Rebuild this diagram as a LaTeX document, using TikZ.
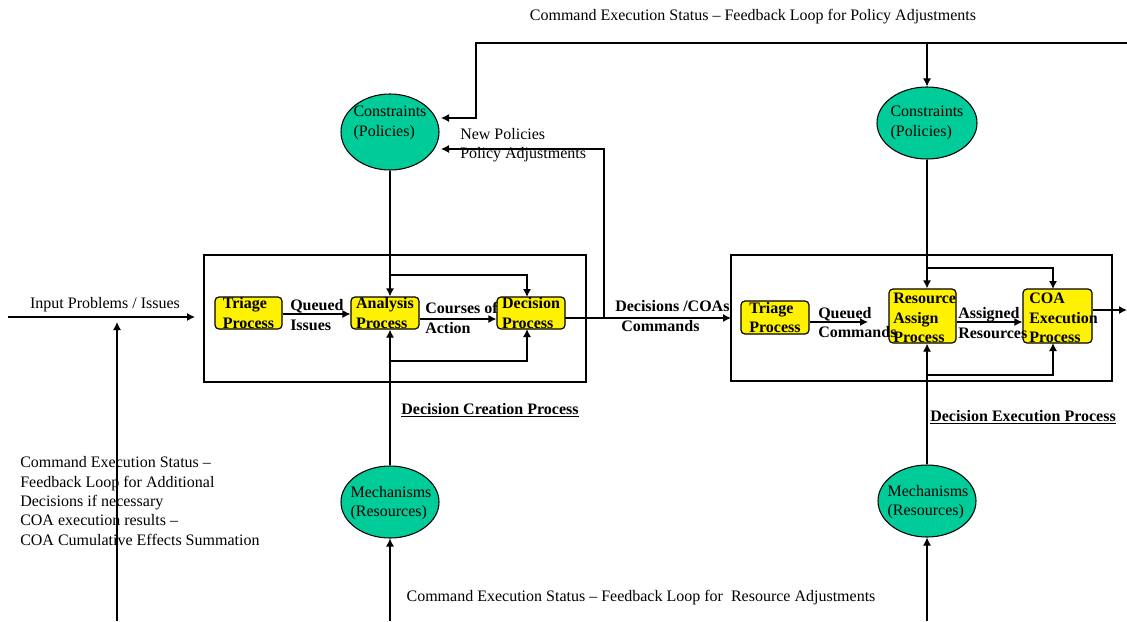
\documentclass[tikz,border=0pt]{standalone}
\usepackage{fontspec}
\setmainfont{Liberation Serif}
\usetikzlibrary{arrows.meta,shapes.geometric}
\definecolor{ellgreen}{RGB}{0,204,153}
\begin{document}
\begin{tikzpicture}[x=0.75pt,y=-0.75pt,
  font=\fontsize{12}{14.5}\selectfont,
  ybox/.style={draw, fill=yellow, rounded corners=3pt, inner sep=0pt, line width=0.9pt},
  ell/.style={draw, ellipse, fill=ellgreen, inner sep=0pt, line width=0.8pt},
  frame/.style={draw, inner sep=0pt, line width=0.9pt},
  txt/.style={inner sep=0pt, align=left},
  btxt/.style={inner sep=0pt, align=left, font=\fontsize{12}{14.5}\selectfont\bfseries},
  arr/.style={-{Latex[length=6pt,width=6pt]}, line width=0.9pt},
  ln/.style={line width=0.9pt}]
\useasboundingbox (0,0) rectangle (1127,621);

% ---------- frames ----------
\node[frame, minimum width=382*0.75pt, minimum height=127*0.75pt] (frm1) at (395,318.5) {};
\node[frame, minimum width=381*0.75pt, minimum height=126*0.75pt] (frm2) at (921.5,318) {};

% ---------- ellipses ----------
\node[ell, minimum width=98*0.75pt, minimum height=76*0.75pt] (con1) at (390,132) {};
\node[txt] (con1t) at (390,123) {Constraints\\(Policies)};
\node[ell, minimum width=100*0.75pt, minimum height=72*0.75pt] (con2) at (927,123) {};
\node[txt] (con2t) at (927,123) {Constraints\\(Policies)};
\node[ell, minimum width=98*0.75pt, minimum height=72*0.75pt] (mech1) at (390,502) {};
\node[txt] (mech1t) at (391,503) {Mechanisms\\(Resources)};
\node[ell, minimum width=98*0.75pt, minimum height=72*0.75pt] (mech2) at (927,501) {};
\node[txt] (mech2t) at (928,502) {Mechanisms\\(Resources)};

% ---------- yellow boxes ----------
\node[ybox, minimum width=67*0.75pt, minimum height=32*0.75pt] (tri1) at (248.5,313) {};
\node[btxt] (tri1t) at (248.5,313) {Triage\\Process};
\node[ybox, minimum width=68*0.75pt, minimum height=32*0.75pt] (ana1) at (385,313) {};
\node[btxt] (ana1t) at (385,313) {Analysis\\Process};
\node[ybox, minimum width=68*0.75pt, minimum height=32*0.75pt] (dec1) at (531,313) {};
\node[btxt] (dec1t) at (531,313) {Decision\\Process};

\node[ybox, minimum width=68*0.75pt, minimum height=33*0.75pt] (tri2) at (775,317.5) {};
\node[btxt] (tri2t) at (775,317.5) {Triage\\Process};
\node[ybox, minimum width=67*0.75pt, minimum height=54*0.75pt] (res2) at (922.5,316) {};
\node[btxt, anchor=west] (res2t) at (893,318) {Resource\\Assign\\Process};
\node[ybox, minimum width=69*0.75pt, minimum height=54*0.75pt] (coa2) at (1057.5,316) {};
\node[btxt, anchor=west] (coa2t) at (1029,318) {COA\\Execution\\Process};

% ---------- coordinates ----------
\coordinate (inL) at (8,317);
\coordinate (inR) at (195,317);
\coordinate (fbB) at (117,621);
\coordinate (fbT) at (117,322);
\coordinate (b1) at (390,275);
\coordinate (d1top) at (527,297);
\coordinate (b2) at (390,361);
\coordinate (d1bot) at (527,329);
\coordinate (y319) at (0,319);
\coordinate (dOut) at (565,318);
\coordinate (dIn) at (731,318);
\coordinate (np1) at (604,318);
\coordinate (np3) at (441,149);
\coordinate (tf0) at (1127,43);
\coordinate (tf1) at (476,43);
\coordinate (tf2) at (441,118);
\coordinate (tf3) at (927,43);
\coordinate (b3) at (927,268);
\coordinate (c2top) at (1053,289);
\coordinate (b4) at (927,375);
\coordinate (c2bot) at (1053,343);
\coordinate (y322) at (0,322);
\coordinate (q2end) at (868,322);
\coordinate (y310) at (0,310);
\coordinate (outR) at (1127,310);
\coordinate (bot1) at (390,621);
\coordinate (bot2) at (927,621);

% ---------- texts ----------
\node[txt] (inlab) at (105,305) {Input Problems / Issues};
\node[txt, anchor=west] (fbtxt) at (20,501) {Command Execution Status –\\Feedback Loop for Additional\\Decisions if necessary\\COA execution results –\\COA Cumulative Effects Summation};
\node[btxt, anchor=west] (qilab) at (290,315) {Queued\\Issues};
\node[btxt, anchor=west] (coalab) at (425,318) {Courses of\\Action};
\node[btxt, anchor=west] (dclab) at (615,316) {Decisions /COAs\\\hspace*{4.5pt}Commands};
\node[btxt, anchor=west] (qclab) at (818,322.5) {Queued\\Commands};
\node[btxt, anchor=west] (arlab) at (958,323) {Assigned\\Resources};
\node[txt, anchor=west] (nplab) at (460,145) {New Policies\\Policy Adjustments};
\node[txt] (toplab) at (753,17) {Command Execution Status – Feedback Loop for Policy Adjustments};
\node[txt] (botlab) at (641,598) {Command Execution Status – Feedback Loop for~ Resource Adjustments};
\node[btxt] (dcp) at (490,410) {\underline{Decision Creation Process}};
\node[btxt] (dep) at (1023,417) {\underline{Decision Execution Process}};

% ---------- connectors ----------
\draw[arr] (inL) -- (inR);
\draw[arr] (fbB) -- (fbT);

\draw[arr] (con1.south) -- (con1.south |- ana1.north);
\draw[arr] (b1) -| (d1top);
\draw[arr] (mech1.north) -- (mech1.north |- ana1.south);
\draw[arr] (b2) -| (d1bot);
\draw[arr] ([yshift=-0.75pt]tri1.east) -- ([yshift=-0.75pt]ana1.west);
\draw[arr] (ana1.east |- y319) -- (dec1.west |- y319);
\draw[arr] (dOut) -- (dIn);
\draw[arr] (np1) |- (np3);
\draw[arr] (tf0) -- (tf1) |- (tf2);
\draw[arr] (tf3) -- (con2.north);

\draw[arr] (con2.south) -- (con2.south |- res2.north);
\draw[arr] (b3) -| (c2top);
\draw[arr] (mech2.north) -- (mech2.north |- res2.south);
\draw[arr] (b4) -| (c2bot);
\draw[arr] (tri2.east |- y322) -- (q2end);
\draw[arr] (res2.east |- y322) -- (coa2.west |- y322);
\draw[arr] (coa2.east |- y310) -- (outR);

\draw[arr] (bot1) -- (mech1.south);
\draw[arr] (bot2) -- (mech2.south);
\end{tikzpicture}
\end{document}
